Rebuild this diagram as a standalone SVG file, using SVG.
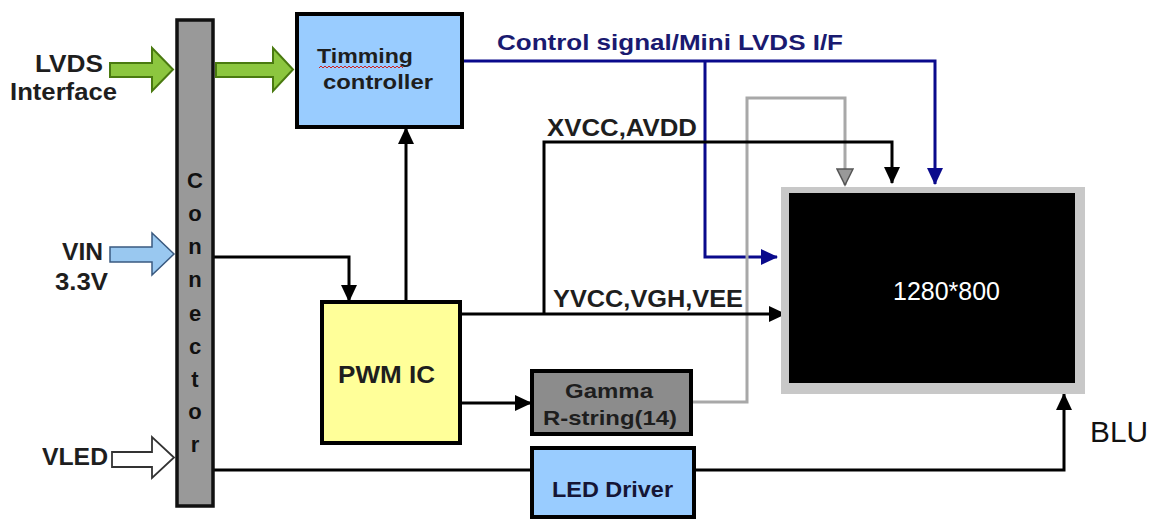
<svg xmlns="http://www.w3.org/2000/svg" width="1162" height="519" viewBox="0 0 1162 519">
<defs>
<style>
.t{font-family:"Liberation Sans",Arial,sans-serif;font-weight:bold;fill:#1e1e1e}
.box{stroke:#000;stroke-width:4}
.ln{fill:none;stroke:#000;stroke-width:3}
.bl{fill:none;stroke:#0a0a8c;stroke-width:3}
.gr{fill:none;stroke:#a8a8a8;stroke-width:3}
.green{fill:#8cc63f;stroke:#4a7a10;stroke-width:2}
</style>
<marker id="ak" markerUnits="userSpaceOnUse" markerWidth="17" markerHeight="16" refX="16" refY="8" orient="auto"><path d="M0,0 L17,8 L0,16 z" fill="#000"/></marker>
<marker id="ab" markerUnits="userSpaceOnUse" markerWidth="17" markerHeight="16" refX="16" refY="8" orient="auto"><path d="M0,0 L17,8 L0,16 z" fill="#0a0a8c"/></marker>
<marker id="ag" markerUnits="userSpaceOnUse" markerWidth="19" markerHeight="18" refX="17" refY="9" orient="auto"><path d="M1,1 L17,9 L1,17 z" fill="#999" stroke="#555" stroke-width="1.5"/></marker>
</defs>
<rect width="1162" height="519" fill="#fff"/>

<g id="connectors">
<path class="bl" d="M462,61 H935 V184" marker-end="url(#ab)"/>
<path class="bl" d="M705,61 V257 H777" marker-end="url(#ab)"/>
<path class="gr" d="M692,402 H747 V98 H845 V185" marker-end="url(#ag)"/>
<path class="ln" d="M544,314 V142 H892 V183" marker-end="url(#ak)"/>
<path class="ln" d="M460,314 H785" marker-end="url(#ak)"/>
<path class="ln" d="M213,257 H349 V301" marker-end="url(#ak)"/>
<path class="ln" d="M406,302 V128" marker-end="url(#ak)"/>
<path class="ln" d="M460,403 H531" marker-end="url(#ak)"/>
<path class="ln" d="M213,470 H532"/>
<path class="ln" d="M695,470 H1064 V394" marker-end="url(#ak)"/>
<path class="green" d="M216,63 H273 V48 L293,69.5 L273,91 V77 H216 z"/>
</g>

<g id="lvds-input">
<path class="green" d="M110,63 H152 V48 L173,69.5 L152,91 V77 H110 z"/>
<text class="t" x="69" y="72" font-size="23" text-anchor="middle" textLength="68" lengthAdjust="spacingAndGlyphs">LVDS</text>
<text class="t" x="63.5" y="100" font-size="23" text-anchor="middle" textLength="107" lengthAdjust="spacingAndGlyphs">Interface</text>
</g>

<g id="vin-input">
<path d="M110,247 H152 V233 L174,254 L152,275 V262 H110 z" fill="#99c8f0" stroke="#3a5a80" stroke-width="1.5"/>
<text class="t" x="82.5" y="260" font-size="23" text-anchor="middle" textLength="41" lengthAdjust="spacingAndGlyphs">VIN</text>
<text class="t" x="81.5" y="290" font-size="23" text-anchor="middle" textLength="53" lengthAdjust="spacingAndGlyphs">3.3V</text>
</g>

<g id="vled-input">
<path d="M112,452 H152 V437 L174,457.5 L152,478 V467 H112 z" fill="#fff" stroke="#333" stroke-width="1.8"/>
<text class="t" x="75" y="465" font-size="23" text-anchor="middle" textLength="66" lengthAdjust="spacingAndGlyphs">VLED</text>
</g>

<g id="connector">
<rect x="177" y="20" width="36" height="486" fill="#999" stroke="#111" stroke-width="3.5"/>
<g class="t" font-size="22" text-anchor="middle" style="fill:#111">
<text x="195" y="188">C</text>
<text x="195" y="221">o</text>
<text x="195" y="254">n</text>
<text x="195" y="287">n</text>
<text x="195" y="321">e</text>
<text x="195" y="354">c</text>
<text x="195" y="387">t</text>
<text x="195" y="419">o</text>
<text x="195" y="452">r</text>
</g>
</g>

<g id="timing-controller">
<rect class="box" x="297" y="14" width="165" height="113" fill="#99ccff"/>
<text class="t" x="365" y="63" font-size="21" text-anchor="middle" textLength="96" lengthAdjust="spacingAndGlyphs">Timming</text>
<path d="M319,68 l2,-2 l2,2 l2,-2 l2,2 l2,-2 l2,2 l2,-2 l2,2 l2,-2 l2,2 l2,-2 l2,2 l2,-2 l2,2 l2,-2 l2,2 l2,-2 l2,2 l2,-2 l2,2 l2,-2 l2,2 l2,-2 l2,2 l2,-2 l2,2 l2,-2 l2,2 l2,-2 l2,2 l2,-2 l2,2 l2,-2 l2,2 l2,-2 l2,2 l2,-2 l2,2 l2,-2 l2,2 l2,-2 l2,2" fill="none" stroke="#d02020" stroke-width="1"/>
<text class="t" x="378" y="89" font-size="21" text-anchor="middle" textLength="110" lengthAdjust="spacingAndGlyphs">controller</text>
</g>

<g id="control-label">
<text class="t" x="497" y="50" font-size="22" textLength="346" lengthAdjust="spacingAndGlyphs" style="fill:#1a1a70">Control signal/Mini LVDS I/F</text>
</g>

<g id="xvcc-label">
<text class="t" x="547" y="136" font-size="23" textLength="150" lengthAdjust="spacingAndGlyphs">XVCC,AVDD</text>
</g>
<g id="yvcc-label">
<text class="t" x="553" y="307" font-size="23" textLength="190" lengthAdjust="spacingAndGlyphs">YVCC,VGH,VEE</text>
</g>

<g id="pwm-ic">
<rect class="box" x="322" y="302" width="138" height="141" fill="#ffff99"/>
<text class="t" x="386.5" y="383" font-size="23" text-anchor="middle" textLength="97" lengthAdjust="spacingAndGlyphs">PWM IC</text>
</g>

<g id="gamma">
<rect class="box" x="532" y="371" width="159" height="63" fill="#8c8c8c"/>
<text class="t" x="609" y="398" font-size="21" text-anchor="middle" textLength="88" lengthAdjust="spacingAndGlyphs">Gamma</text>
<text class="t" x="610" y="425" font-size="21" text-anchor="middle" textLength="134" lengthAdjust="spacingAndGlyphs">R-string(14)</text>
</g>

<g id="led-driver">
<rect class="box" x="532" y="448" width="162" height="69" fill="#99ccff"/>
<text class="t" x="612.5" y="497" font-size="22" text-anchor="middle" textLength="121" lengthAdjust="spacingAndGlyphs" style="fill:#151535">LED Driver</text>
</g>

<g id="display">
<rect x="781" y="187" width="304" height="207" fill="#c8c8c8"/>
<rect x="789" y="193" width="286" height="190" fill="#000"/>
<text x="946.5" y="300" font-family="Liberation Sans,Arial,sans-serif" font-size="25" fill="#fff" text-anchor="middle" textLength="107" lengthAdjust="spacingAndGlyphs">1280*800</text>
</g>

<g id="blu-label">
<text x="1090" y="442" font-family="Liberation Sans,Arial,sans-serif" font-size="29" fill="#111" textLength="58" lengthAdjust="spacingAndGlyphs">BLU</text>
</g>
</svg>
